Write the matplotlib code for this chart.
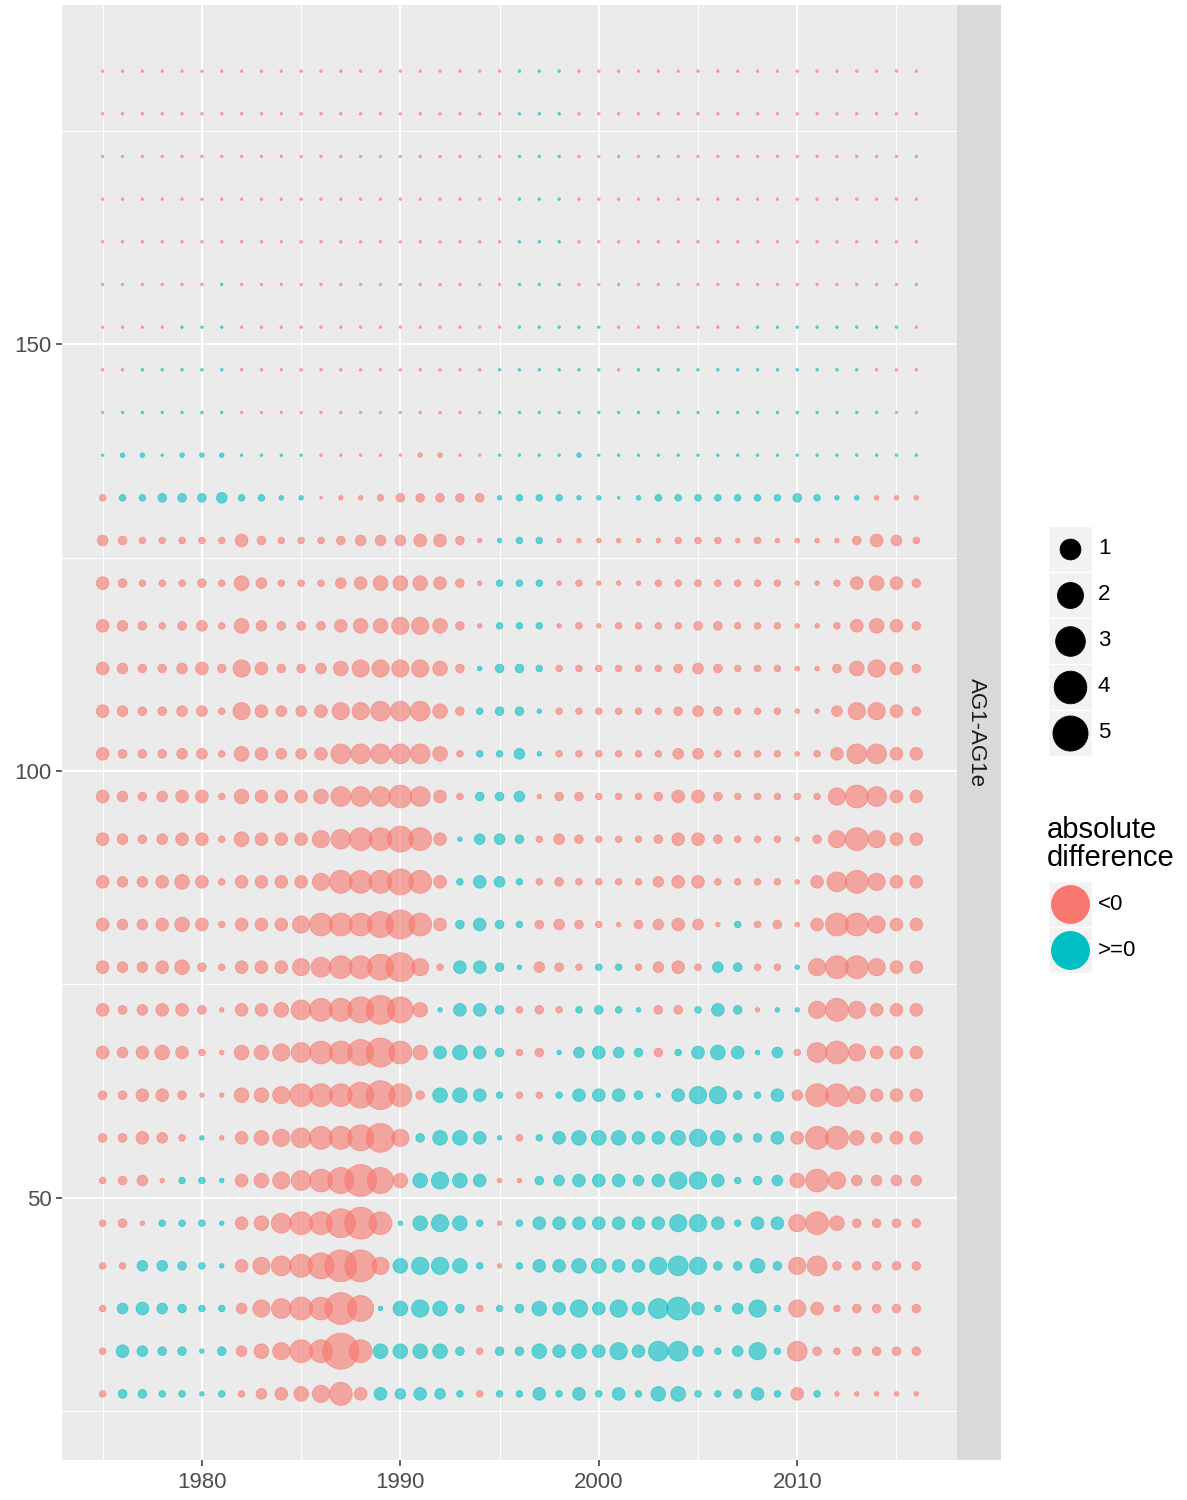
import matplotlib
matplotlib.use('Agg')
import matplotlib.pyplot as plt
import matplotlib.patches as mpatches
import numpy as np

plt.rcParams['font.family'] = ['Liberation Sans', 'DejaVu Sans']

# ---- data -------------------------------------------------------------
years = list(range(1975, 2017))          # 42 columns
depths = list(range(27, 183, 5))         # 32 rows, bottom -> top

# magnitude of the difference for the codes a..n
# lowercase code = difference < 0, uppercase code = difference >= 0
levels = [0.0, 0.002, 0.015, 0.047, 0.105, 0.195, 0.32,
          0.55, 0.85, 1.35, 2.0, 2.8, 3.75, 5.4]

# one string per depth (bottom row first), one character per year
grid_rows = [
    "cDDCCBCcefghjfFEFECcC" + "CFCFCFCGGCCDFCfCbbbbb",   # 27
    "cFEDDBDeghjjnjGGGGDcD" + "DGFGFHFIIECEHCidcdddd",   # 32
    "cEFEDCCehijjmkBGHGDcC" + "DGFHFHFIJFCEHChfcdddd",   # 37
    "ccEEDCBfhijkmmhGHHGCb" + "CFFGGFFHIHDDGDhiddddd",   # 42
    "cdbCCCBfgijjlmjBGHGCb" + "CFFFFFFFHHFCFFhjgdddd",   # 47
    "cdebCCBfghijkmkgGHGFb" + "bDEFFFEFHHFCDEgjheeee",   # 52
    "ddfecBbfghijjklhDGGFB" + "cCFGGGFFGHGDDFfjjgeff",   # 57
    "ddffdbbgghjjjkljdGGFC" + "ccCFFFDBFHHDCFejjhfff",   # 62
    "fefgfcbgghijjkljgFGFD" + "cdBEFEDdCFGFBEcijhfff",   # 67
    "fdeffdbffgijjklkgBFFD" + "cdcCDCBddCFDbBBhjhfff",   # 72
    "feefgdcfffhijjklhcFFD" + "BedcCCcefcEDccBhjjhff",   # 77
    "feefgfcfffhjjjkljfDFD" + "CdedcbdefebCcdbfjjhff",   # 82
    "feefgfcffffhjjjkjfCFE" + "Ccdcccceffccccbfijhff",   # 87
    "fedeffcgfffhijjkjfBEE" + "Dcedcccdffdcccbdhjhff",   # 92
    "fedeffcgfffgiiijifcDD" + "Ebddcccdffdccccchjiff",   # 97
    "fdddeecgfeefiiiiigcCC" + "EBcccccceeccccbcfiiff",   # 102
    "feddeechfeefhhiiigdCD" + "DBccccccdedcccbbehhfd",   # 107
    "feddefdhfddeghhhhgdBD" + "DCccccccdedcccbbdghfd",   # 112
    "fedcdecgedddfgghhgdbC" + "CCbcbccccddcccbbcfgfd",   # 117
    "fdcccdcgecccefgggfdbC" + "CCbcbbbcccccccbbcfgfd",   # 122
    "edcccccfdcccdeeeffdbB" + "CCbbbbbbcccbcbbbbdfec",   # 127
    "cCCDDDECCBBabbcdddddB" + "CCCBBABCCCCCCCDCBBbbb",   # 132
    "ABBABBBAAAAaaaaabbaaA" + "AAABAAAAAAAAAAAAAAAAA",   # 137
    "aAAAAAAaaaaaaaaaaaaaA" + "AAAAAAAAAAAAAAAAAAAaa",   # 142
    "aaAAAAAaaaaaaaaaaaaaA" + "AAAAAaAAAAAAAAAAAAaaa",   # 147
    "aaaaAAAaaaaaaaaaaaaaa" + "AAAAAaaaaaaaAAAAAAAAa",   # 152
    "aaaaaaAaaaaaaaaaaaaaa" + "AAAaaaaaaaaaaaaaaaaaa",   # 157
    "aaaaaaaaaaaaaaaaaaaaa" + "AAAaaaaaaaaaaaaaaaaaa",   # 162
    "aaaaaaaaaaaaaaaaaaaaa" + "AAAaaaaaaaaaaaaaaaaaa",   # 167
    "aaaaaaaaaaaaaaaaaaaaa" + "AAAaaaaaaaaaaaaaaaaaa",   # 172
    "aaaaaaaaaaaaaaaaaaaaa" + "AAAaaaaaaaaaaaaaaaaaa",   # 177
    "aaaaaaaaaaaaaaaaaaaaa" + "AAAaaaaaaaaaaaaaaaaaa",   # 182
]

size_breaks = [1, 2, 3, 4, 5]
sign_labels = ['<0', '>=0']
sign_colors = ['#F8766D', '#00BFC4']
strip_label = 'AG1-AG1e'

# ---- helpers ----------------------------------------------------------
W, H = 1187, 1500


def px_box(x0, y0, x1, y1):
    return [x0 / W, 1 - y1 / H, (x1 - x0) / W, (y1 - y0) / H]


def diam_px(v):
    return 2.6 + 18.2 * np.power(v, 0.36)


def marker_area(v):
    return (diam_px(v) * 72 / 100.0) ** 2


xs, ys, vals, cols = [], [], [], []
for depth, row in zip(depths, grid_rows):
    for year, ch in zip(years, row):
        idx = ord(ch.lower()) - ord('a')
        idx = min(max(idx, 0), len(levels) - 1)
        xs.append(year)
        ys.append(depth)
        vals.append(levels[idx])
        cols.append(sign_colors[1] if ch.isupper() else sign_colors[0])
vals = np.array(vals)

# ---- figure -----------------------------------------------------------
fig = plt.figure(figsize=(11.87, 15), dpi=100)
fig.patch.set_facecolor('white')

ax = fig.add_axes(px_box(62, 5, 957, 1460))
ax.set_facecolor('#EBEBEB')
for s in ax.spines.values():
    s.set_visible(False)

ax.set_xlim(1972.95, 2018.05)
ax.set_ylim(19.25, 189.75)
ax.set_xticks([1980, 1990, 2000, 2010])
ax.set_xticks([1975, 1985, 1995, 2005, 2015], minor=True)
ax.set_yticks([50, 100, 150])
ax.set_yticks([25, 75, 125, 175], minor=True)
ax.grid(which='major', color='white', linewidth=1.5)
ax.grid(which='minor', color='white', linewidth=0.75)
ax.set_axisbelow(True)
ax.tick_params(which='major', length=4.5, width=1.1, color='#333333',
               labelsize=16, labelcolor='#4D4D4D', pad=3)
ax.tick_params(axis='x', which='major', pad=4)
ax.tick_params(which='minor', length=0)

ax.scatter(xs, ys, s=marker_area(vals), c=cols, edgecolors=cols,
           linewidths=0.6, alpha=0.6, zorder=3)

# facet strip on the right
strip = fig.add_axes(px_box(957, 5, 1001, 1460))
strip.set_facecolor('#D9D9D9')
strip.set_xticks([])
strip.set_yticks([])
for s in strip.spines.values():
    s.set_visible(False)
strip.text(0.45, 0.5, strip_label, rotation=-90, ha='center', va='center',
           fontsize=16, color='#1A1A1A', transform=strip.transAxes)

# ---- legends (drawn in pixel space) -----------------------------------
lg = fig.add_axes([0, 0, 1, 1])
lg.set_xlim(0, W)
lg.set_ylim(H, 0)
lg.axis('off')

key_x0, key_w, key_h = 1048, 44, 46
size_y0 = 549
for i, b in enumerate(size_breaks):
    cy = size_y0 + key_h * i
    lg.add_patch(mpatches.Rectangle((key_x0, cy - key_h / 2), key_w, key_h,
                                    facecolor='#F2F2F2', edgecolor='white', lw=1))
    lg.scatter([key_x0 + key_w / 2], [cy], s=marker_area(b), c='black',
               edgecolors='black', linewidths=0.6)
    lg.text(key_x0 + key_w + 6, cy, str(b), ha='left', va='center',
            fontsize=16, color='black')

lg.text(key_x0 - 1, 844, 'absolute\ndifference', ha='left', va='center',
        fontsize=21, color='black', linespacing=1.0)
col_y0 = 904
for i, (lab, c) in enumerate(zip(sign_labels, sign_colors)):
    cy = col_y0 + key_h * i
    lg.add_patch(mpatches.Rectangle((key_x0, cy - key_h / 2), key_w, key_h,
                                    facecolor='#F2F2F2', edgecolor='white', lw=1))
    lg.scatter([key_x0 + key_w / 2], [cy], s=(38 * 0.72) ** 2, c=c,
               edgecolors=c, linewidths=0.6)
    lg.text(key_x0 + key_w + 6, cy, lab, ha='left', va='center',
            fontsize=16, color='black')

fig.savefig('out.png', dpi=100)
plt.close(fig)
